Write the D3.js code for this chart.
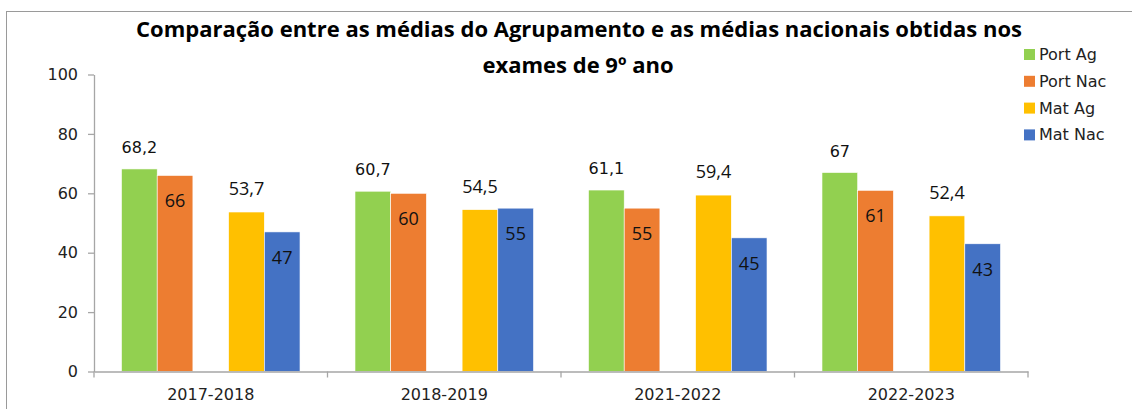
<!DOCTYPE html>
<html>
<head>
<meta charset="utf-8">
<script src="https://cdn.jsdelivr.net/npm/d3@7"></script>
<style>
  body { margin: 0; background: #fff; }
</style>
</head>
<body>
<div id="chart"></div>
<script>
const years = ["2017-2018", "2018-2019", "2021-2022", "2022-2023"];
const seriesNames = ["Port Ag", "Port Nac", "Mat Ag", "Mat Nac"];
const portAg = [68.2, 60.7, 61.1, 67];
const portNac = [66, 60, 55, 61];
const matAg = [53.7, 54.5, 59.4, 52.4];
const matNac = [47, 55, 45, 43];
const yTicks = [0, 20, 40, 60, 80, 100];

const colors = {
  "Port Ag": "#92D050",
  "Port Nac": "#ED7D31",
  "Mat Ag": "#FFC000",
  "Mat Nac": "#4472C4"
};

const width = 1132, height = 409;
const svg = d3.select("#chart").append("svg")
  .attr("width", width)
  .attr("height", height);

// outer frame
svg.append("rect")
  .attr("x", 6.5).attr("y", 11.5)
  .attr("width", width + 10).attr("height", height + 10)
  .attr("fill", "none")
  .attr("stroke", "#9a9a9a");

const x = d3.scaleBand()
  .domain(years)
  .range([94, 1028])
  .padding(0);

// empty slot in the middle of each group
const inner = d3.scaleBand()
  .domain(["Port Ag", "Port Nac", "gap", "Mat Ag", "Mat Nac"])
  .range([0, x.bandwidth()])
  .paddingInner(0)
  .paddingOuter(0.77);

const y = d3.scaleLinear()
  .domain([0, 100])
  .range([371.5, 74.5]);

const rows = [];
years.forEach((yr, i) => {
  rows.push({ year: yr, key: "Port Ag", v: portAg[i] });
  rows.push({ year: yr, key: "Port Nac", v: portNac[i] });
  rows.push({ year: yr, key: "Mat Ag", v: matAg[i] });
  rows.push({ year: yr, key: "Mat Nac", v: matNac[i] });
});

// bars
svg.append("g").selectAll("rect")
  .data(rows)
  .enter()
  .append("rect")
  .attr("x", d => x(d.year) + inner(d.key))
  .attr("y", d => y(d.v))
  .attr("width", inner.bandwidth())
  .attr("height", d => y(0) - y(d.v))
  .attr("fill", d => colors[d.key])
  .attr("stroke", "#fff")
  .attr("stroke-width", 0.6);

// axes
const axisColor = "#a6a6a6";
const yAxis = svg.append("g")
  .attr("transform", "translate(94,0)")
  .call(d3.axisLeft(y).tickValues(yTicks).tickSize(6).tickPadding(10).tickSizeOuter(0));
yAxis.select(".domain").attr("stroke", axisColor).attr("stroke-width", 1.3);
yAxis.selectAll(".tick line").attr("stroke", axisColor).attr("stroke-width", 1.3);
yAxis.selectAll(".tick text")
  .attr("fill", "#222")
  .style("font-family", "DejaVu Sans")
  .style("font-size", "16px");

const xAxis = svg.append("g")
  .attr("transform", `translate(0,${y(0)})`)
  .call(d3.axisBottom(x).tickSize(0).tickPadding(17));
xAxis.select(".domain").attr("stroke", axisColor).attr("stroke-width", 1.3);
xAxis.selectAll(".tick text")
  .attr("fill", "#222")
  .style("font-family", "DejaVu Sans")
  .style("font-size", "16px");

// category boundary ticks
const bounds = years.map(d => x(d)).concat([x.range()[1]]);
svg.append("g").selectAll("line")
  .data(bounds)
  .enter()
  .append("line")
  .attr("x1", d => d).attr("x2", d => d)
  .attr("y1", y(0)).attr("y2", y(0) + 6)
  .attr("stroke", axisColor)
  .attr("stroke-width", 1.3);

// data labels
const fmt = v => String(v).replace(".", ",");
svg.append("g").selectAll("text")
  .data(rows)
  .enter()
  .append("text")
  .attr("x", d => x(d.year) + inner(d.key) + inner.bandwidth() / 2)
  .attr("y", d => {
    if (d.key === "Port Ag") return y(d.v) - 16;
    if (d.key === "Mat Ag") return y(d.v) - 17;
    return y(d.v) + 32;
  })
  .attr("text-anchor", "middle")
  .attr("fill", "#111")
  .style("font-family", d => d.key === "Port Ag" ? "DejaVu Sans" : "Open Sans")
  .style("font-size", d => d.key === "Port Ag" ? "16px" : "18px")
  .text(d => fmt(d.v));

// title
const title = svg.append("text")
  .attr("text-anchor", "middle")
  .style("font-family", "Open Sans")
  .style("font-weight", "bold")
  .style("font-size", "22px")
  .attr("fill", "#000");
title.append("tspan").attr("x", 579).attr("y", 37)
  .text("Comparação entre as médias do Agrupamento e as médias nacionais obtidas nos");
title.append("tspan").attr("x", 578).attr("y", 73)
  .text("exames de 9º ano");

// legend
const legend = svg.append("g")
  .selectAll("g")
  .data(seriesNames)
  .enter()
  .append("g")
  .attr("transform", (d, i) => `translate(1024,${54 + i * 26.8})`);
legend.append("rect")
  .attr("x", 0).attr("y", -5)
  .attr("width", 11).attr("height", 11)
  .attr("fill", d => colors[d]);
legend.append("text")
  .attr("x", 15).attr("y", 6)
  .attr("fill", "#222")
  .style("font-family", "DejaVu Sans")
  .style("font-size", "16px")
  .text(d => d);
</script>
</body>
</html>
